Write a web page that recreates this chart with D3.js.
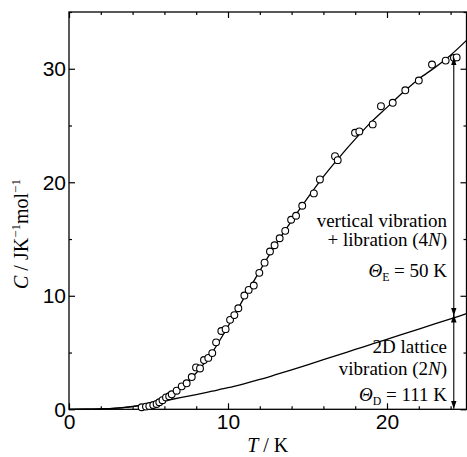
<!DOCTYPE html>
<html>
<head>
<meta charset="utf-8">
<script src="https://cdn.jsdelivr.net/npm/d3@7"></script>
<style>
    body{margin:0;background:#fff;}
    svg{display:block;font-family:'Liberation Serif','Times New Roman',serif;}
    .frame{fill:none;stroke:#000;stroke-width:1.3;}
    .tick line{stroke:#000;stroke-width:1.2;}
    .tick text{font-size:21px;fill:#000;}
    .domain{display:none;}
</style>
</head>
<body>
<div id="chart"></div>
<script>
// measured points (T / K, C / J K-1 mol-1)
var tempData = [4.57,4.84,5.05,5.3,5.51,5.68,5.88,6.1,6.3,6.46,6.77,7.09,7.4,7.72,7.99,8.24,8.49,8.76,9.01,9.25,
    9.58,9.85,10.13,10.4,10.65,11.03,11.3,11.62,11.97,12.3,12.64,12.93,13.25,13.6,13.97,14.28,14.67,15.4,15.78,
    16.73,16.9,17.99,18.26,19.1,19.62,20.36,21.15,22.0,22.83,23.69,24.21,24.38];
var heatData = [0.18,0.24,0.29,0.38,0.47,0.62,0.8,1.05,1.15,1.32,1.64,2.02,2.29,2.84,3.69,3.6,4.34,4.53,4.95,5.9,
    6.9,7.06,7.88,8.3,8.9,10.02,10.52,10.9,12.02,12.92,13.9,14.45,15.07,15.72,16.7,17.05,17.93,19.02,20.25,
    22.3,21.95,24.36,24.48,25.1,26.7,27.0,28.1,28.96,30.37,30.72,30.96,31.0];

// fitted curves
var curveT = [0,1,2,3,4,5,6,7,8,9,10,11,12,13,14,15,16,17,18,19,20,21,22,23,24,25];
var totalC = [0,0.005,0.03,0.1,0.24,0.5,1.0,1.9,3.2,5.0,7.3,9.8,12.2,14.5,16.6,18.6,20.5,22.2,23.8,25.3,26.6,27.9,29.1,30.1,31.2,32.5];
var debyeC = [0,0.005,0.03,0.1,0.25,0.47,0.75,1.02,1.3,1.6,1.9,2.25,2.63,3.05,3.48,3.92,4.37,4.82,5.27,5.72,6.17,6.62,7.07,7.52,7.97,8.42];

// arrows at T = 24.2 : [from C, to C]
var arrowT = 24.2;
var arrowSpans = [[18, 31.0], [18, 8.25], [4, 8.35], [4, 0.05]];

var xTicksMajor = [0, 10, 20];
var yTicksMajor = [0, 10, 20, 30];

(function(){
    'use strict';

    var W = 467, H = 457;
    var left = 69, right = 466.5, top = 12, bottom = 409.3;

    var svg = d3.select('#chart').append('svg')
        .attr('width', W).attr('height', H);

    var x = d3.scaleLinear().domain([0, 25]).range([left, right]);
    var y = d3.scaleLinear().domain([0, 35]).range([bottom, top]);

    var xMinor = d3.range(0, 25.01, 2).filter(function(d){ return xTicksMajor.indexOf(d) < 0; });
    var yMinor = d3.range(0, 35.01, 5).filter(function(d){ return yTicksMajor.indexOf(d) < 0; });

    // ticks, all pointing inward
    svg.append('g').attr('transform', 'translate(0,' + bottom + ')')
        .call(d3.axisBottom(x).tickValues(xTicksMajor).tickSize(-6).tickPadding(5));
    svg.append('g').attr('transform', 'translate(0,' + bottom + ')')
        .call(d3.axisBottom(x).tickValues(xMinor).tickSize(-3).tickFormat(''));
    svg.append('g').attr('transform', 'translate(0,' + top + ')')
        .call(d3.axisTop(x).tickValues(xTicksMajor).tickSize(-6).tickFormat(''));
    svg.append('g').attr('transform', 'translate(0,' + top + ')')
        .call(d3.axisTop(x).tickValues(xMinor).tickSize(-3).tickFormat(''));
    svg.append('g').attr('transform', 'translate(' + left + ',0)')
        .call(d3.axisLeft(y).tickValues(yTicksMajor).tickSize(-6).tickPadding(3));
    svg.append('g').attr('transform', 'translate(' + left + ',0)')
        .call(d3.axisLeft(y).tickValues(yMinor).tickSize(-3).tickFormat(''));
    svg.append('g').attr('transform', 'translate(' + right + ',0)')
        .call(d3.axisRight(y).tickValues(yTicksMajor).tickSize(-6).tickFormat(''));
    svg.append('g').attr('transform', 'translate(' + right + ',0)')
        .call(d3.axisRight(y).tickValues(yMinor).tickSize(-3).tickFormat(''));

    svg.append('rect').attr('class', 'frame')
        .attr('x', left).attr('y', top)
        .attr('width', right - left).attr('height', bottom - top);

    // curves
    var line = d3.line()
        .x(function(d){ return x(d[0]); })
        .y(function(d){ return y(d[1]); })
        .curve(d3.curveMonotoneX);

    [totalC, debyeC].forEach(function(c){
        svg.append('path')
            .datum(curveT.map(function(t, i){ return [t, c[i]]; }))
            .attr('d', line)
            .attr('fill', 'none')
            .attr('stroke', '#000')
            .attr('stroke-width', 1.3);
    });

    // data circles
    svg.append('g').selectAll('circle')
        .data(tempData.map(function(t, i){ return [t, heatData[i]]; }))
        .enter().append('circle')
        .attr('cx', function(d){ return x(d[0]); })
        .attr('cy', function(d){ return y(d[1]); })
        .attr('r', 3.4)
        .attr('fill', '#fff')
        .attr('stroke', '#000')
        .attr('stroke-width', 1.1);

    // double arrows
    svg.append('defs').append('marker')
        .attr('id', 'head')
        .attr('viewBox', '0 0 10 10')
        .attr('refX', 10).attr('refY', 5)
        .attr('markerWidth', 8).attr('markerHeight', 8)
        .attr('markerUnits', 'userSpaceOnUse')
        .attr('orient', 'auto')
        .append('path').attr('d', 'M0,1.5L10,5L0,8.5Z').attr('fill', '#000');

    svg.append('g').selectAll('line')
        .data(arrowSpans)
        .enter().append('line')
        .attr('x1', x(arrowT)).attr('x2', x(arrowT))
        .attr('y1', function(d){ return y(d[0]); })
        .attr('y2', function(d){ return y(d[1]); })
        .attr('stroke', '#000')
        .attr('stroke-width', 1.1)
        .attr('marker-end', 'url(#head)');

    // annotations
    function label(tx, ty, parts, size){
        var t = svg.append('text')
            .attr('x', tx).attr('y', ty)
            .attr('text-anchor', 'end')
            .attr('font-size', size);
        parts.forEach(function(p){
            var s = t.append('tspan').text(p[0]);
            if(p[1] === 'i') s.attr('font-style', 'italic');
            if(p[1] === 'sub') s.attr('font-size', size * 0.62).attr('dy', 4);
            if(p[1] === 'back') s.attr('dy', -4);
        });
        return t;
    }
    var fs = 19;
    label(447, 227, [['vertical vibration']], fs);
    label(447, 246, [['+ libration (4'], ['N', 'i'], [')']], fs);
    label(447, 277, [['\u0398', 'i'], ['E', 'sub'], [' = 50 K', 'back']], fs);
    label(447, 353, [['2D lattice']], fs);
    label(447, 375, [['vibration (2'], ['N', 'i'], [')']], fs);
    label(447, 401, [['\u0398', 'i'], ['D', 'sub'], [' = 111 K', 'back']], fs);

    // axis titles
    svg.append('text')
        .attr('x', (left + right) / 2).attr('y', 452)
        .attr('text-anchor', 'middle').attr('font-size', 20)
        .call(function(t){
            t.append('tspan').attr('font-style', 'italic').text('T');
            t.append('tspan').text(' / K');
        });

    var yl = svg.append('text')
        .attr('transform', 'translate(28,234) rotate(-90)')
        .attr('text-anchor', 'middle').attr('font-size', 20);
    yl.append('tspan').attr('font-style', 'italic').text('C');
    yl.append('tspan').text(' / JK');
    yl.append('tspan').attr('font-size', 13).attr('dy', -8).text('\u22121');
    yl.append('tspan').attr('dy', 8).text('mol');
    yl.append('tspan').attr('font-size', 13).attr('dy', -8).text('\u22121');
}());
</script>
</body>
</html>
